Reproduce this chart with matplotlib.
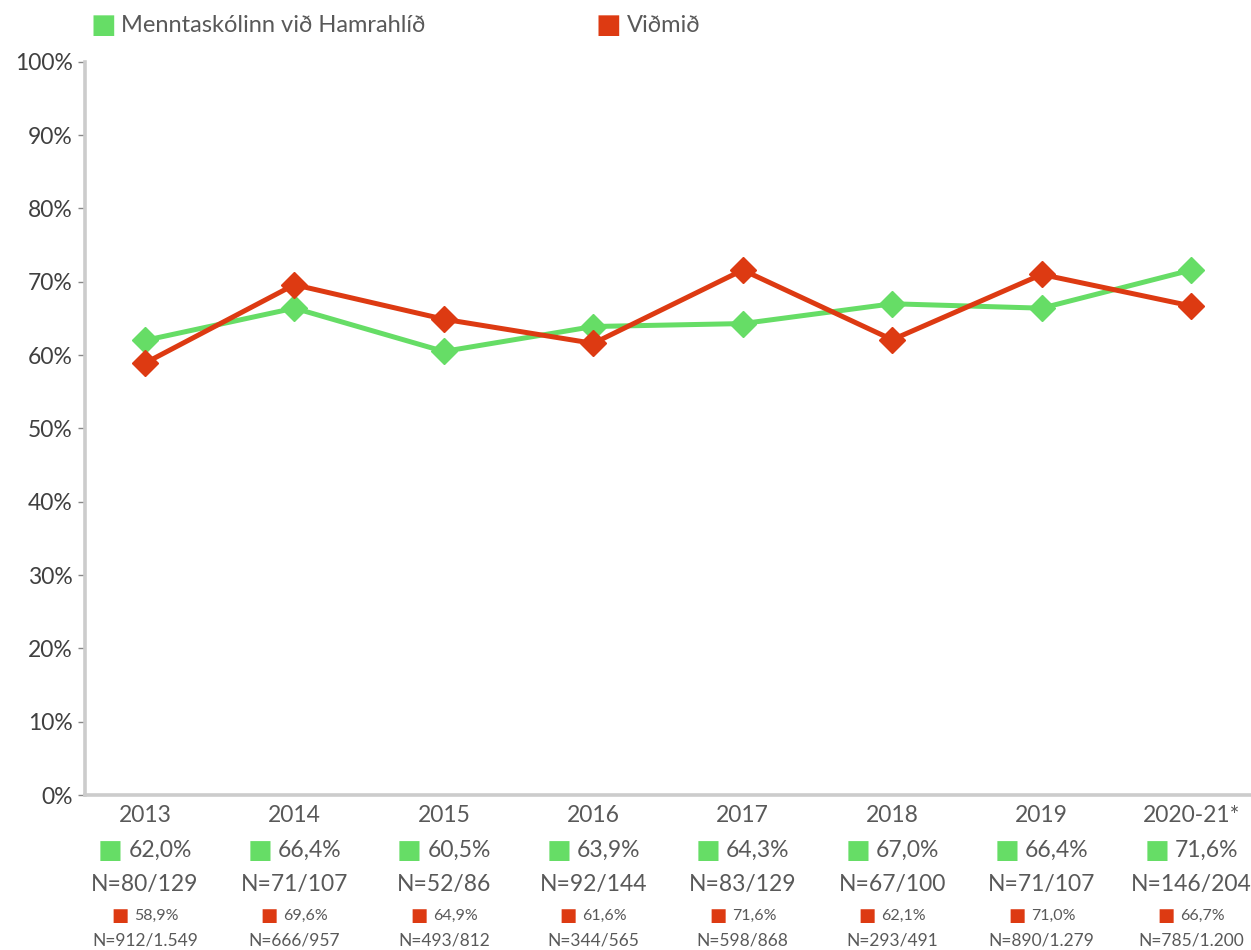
import matplotlib.pyplot as plt
from matplotlib.offsetbox import TextArea, HPacker, AnnotationBbox

plt.rcParams['font.family'] = ['Lato', 'DejaVu Sans']

# Gögn
years = ['2013', '2014', '2015', '2016', '2017', '2018', '2019', '2020-21*']
school = [62.0, 66.4, 60.5, 63.9, 64.3, 67.0, 66.4, 71.6]
school_n = ['80/129', '71/107', '52/86', '92/144', '83/129', '67/100', '71/107', '146/204']
ref = [58.9, 69.6, 64.9, 61.6, 71.6, 62.1, 71.0, 66.7]
ref_n = ['912/1.549', '666/957', '493/812', '344/565', '598/868', '293/491', '890/1.279', '785/1.200']

green = '#66DD66'
red = '#DD3A12'
txt = '#595959'
axcol = '#CCCCCC'

fig = plt.figure(figsize=(12.51, 9.5), dpi=100)
ax = fig.add_axes([0.068, 0.163, 0.932, 0.772])

x = list(range(len(years)))
ax.plot(x, school, color=green, lw=3.6, marker='D', ms=13.5, zorder=3)
ax.plot(x, ref, color=red, lw=3.6, marker='D', ms=13.5, zorder=4)

ax.set_ylim(0, 100)
ax.set_xlim(-0.4, 7.4)
ax.set_yticks(range(0, 101, 10))
ax.set_yticklabels([f'{v}%' for v in range(0, 101, 10)], fontsize=16.5, color='#404040')
ax.set_xticks(x)
ax.set_xticklabels([])
ax.tick_params(axis='x', length=0)
ax.tick_params(axis='y', length=5, width=1, color='#888888', pad=4)
for s in ['top', 'right']:
    ax.spines[s].set_visible(False)
for s in ['left', 'bottom']:
    ax.spines[s].set_color(axcol)
    ax.spines[s].set_linewidth(2.6)


def label_box(sq_color, text, size):
    return HPacker(children=[TextArea('■', textprops=dict(color=sq_color, fontsize=size * 1.15)),
                             TextArea(text, textprops=dict(color=txt, fontsize=size))],
                   align='center', pad=0, sep=4)


for i in x:
    ax.annotate(years[i], xy=(i, 0), xycoords=('data', 'axes fraction'),
                xytext=(0, -14.5), textcoords='offset points', ha='center', va='center',
                fontsize=16.5, color=txt)
    ab = AnnotationBbox(label_box(green, f'{school[i]:.1f}%'.replace('.', ','), 16.5),
                        (i, 0), xycoords=('data', 'axes fraction'),
                        xybox=(0, -40), boxcoords='offset points', frameon=False,
                        box_alignment=(0.5, 0.5), annotation_clip=False)
    ax.add_artist(ab)
    ax.annotate(f'N={school_n[i]}', xy=(i, 0), xycoords=('data', 'axes fraction'),
                xytext=(0, -64), textcoords='offset points', ha='center', va='center',
                fontsize=16.5, color=txt)
    ab = AnnotationBbox(label_box(red, f'{ref[i]:.1f}%'.replace('.', ','), 11.5),
                        (i, 0), xycoords=('data', 'axes fraction'),
                        xybox=(0, -87), boxcoords='offset points', frameon=False,
                        box_alignment=(0.5, 0.5), annotation_clip=False)
    ax.add_artist(ab)
    ax.annotate(f'N={ref_n[i]}', xy=(i, 0), xycoords=('data', 'axes fraction'),
                xytext=(0, -105), textcoords='offset points', ha='center', va='center',
                fontsize=12.5, color=txt)

# Skýringar efst
for xpos, col, name in [(0.072, green, 'Menntaskólinn við Hamrahlíð'), (0.476, red, 'Viðmið')]:
    ab = AnnotationBbox(label_box(col, name, 17), (xpos, 0.973), xycoords='figure fraction',
                        frameon=False, box_alignment=(0, 0.5), annotation_clip=False)
    fig.add_artist(ab)

fig.savefig('out.png', dpi=100)
